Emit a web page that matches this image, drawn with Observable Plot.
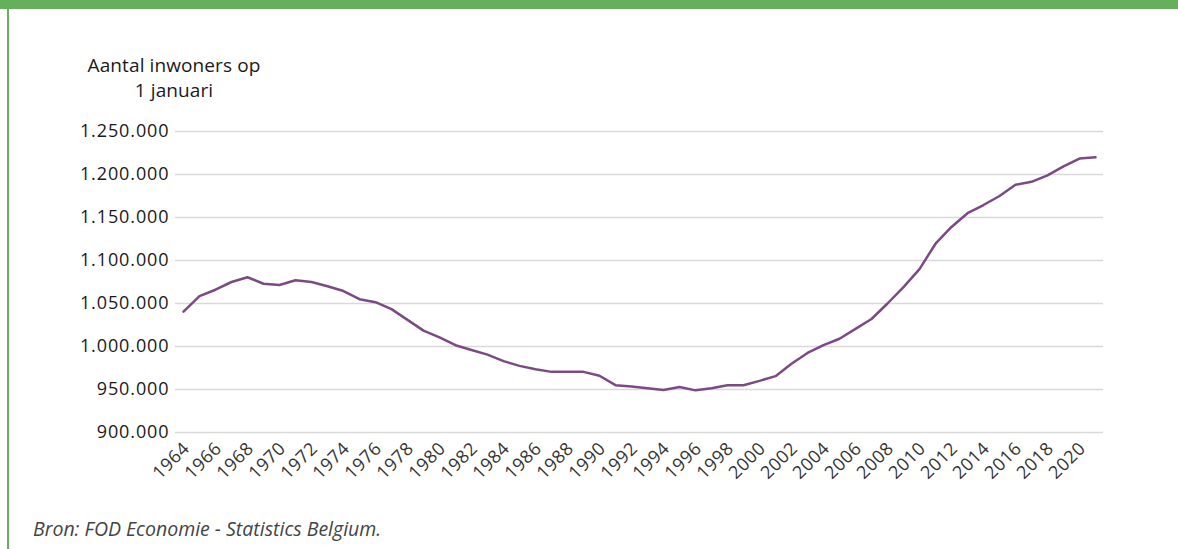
<!DOCTYPE html>
<html>
<head>
<meta charset="utf-8">
<script src="https://cdn.jsdelivr.net/npm/d3@7"></script>
<script src="https://cdn.jsdelivr.net/npm/@observablehq/plot@0.6"></script>
<style>
  html, body { margin: 0; padding: 0; background: #fff; }
  body { width: 1178px; height: 549px; position: relative; overflow: hidden; font-family: "Open Sans", sans-serif; }
  #topbar { position: absolute; left: 0; top: 0; width: 1178px; height: 9px; background: #66af5b; }
  #leftbar { position: absolute; left: 7px; top: 9px; width: 1.5px; height: 540px; background: #66af5b; }
  #title { position: absolute; left: 44px; width: 260px; top: 53px; text-align: center; font-size: 19px; line-height: 25px; color: #1a1a1a; letter-spacing: 0.1px; }
  #chart { position: absolute; left: 0; top: 110px; }
  #caption { position: absolute; left: 33px; top: 515px; font-size: 19.5px; font-style: italic; color: #444; }
  g[aria-label="y-axis tick label"] { letter-spacing: 0.9px; }
  g[aria-label="x-axis tick label"] { letter-spacing: 0.5px; }
</style>
</head>
<body>
<div id="topbar"></div>
<div id="leftbar"></div>
<div id="title">Aantal inwoners op<br>1 januari</div>
<div id="chart"></div>
<div id="caption">Bron: FOD Economie - Statistics Belgium.</div>
<script>
const years = [1964,1965,1966,1967,1968,1969,1970,1971,1972,1973,1974,1975,1976,1977,1978,1979,
  1980,1981,1982,1983,1984,1985,1986,1987,1988,1989,1990,1991,1992,1993,1994,1995,1996,1997,1998,1999,
  2000,2001,2002,2003,2004,2005,2006,2007,2008,2009,2010,2011,2012,2013,2014,2015,2016,2017,2018,2019,2020,2021];
const inwoners = [1040500,1058500,1066000,1075000,1080500,1073000,1071500,1077000,1075000,1070000,1064500,1055000,1051500,1043500,1031000,1018500,
  1010500,1001500,996000,990500,983000,977500,973500,970500,970500,970500,966000,955000,953500,951500,949500,953000,949000,951500,955000,955000,
  960000,965500,980000,992500,1001500,1009000,1020500,1032000,1050000,1069000,1090000,1119500,1139000,1155000,1164500,1175000,1188000,1191500,1199000,1209500,1218500,1220000];
const tickYears = [1964,1966,1968,1970,1972,1974,1976,1978,1980,1982,1984,1986,1988,1990,1992,1994,1996,1998,
  2000,2002,2004,2006,2008,2010,2012,2014,2016,2018,2020];
const yTicks = [900000,950000,1000000,1050000,1100000,1150000,1200000,1250000];

const data = years.map((y, i) => ({year: y, value: inwoners[i]}));
const fmt = d => d3.format(",")(d).replace(/,/g, ".");

const chart = Plot.plot({
  width: 1178,
  height: 392,
  marginLeft: 175,
  marginRight: 75,
  marginTop: 21,
  marginBottom: 70,
  style: { fontFamily: "'Open Sans', sans-serif", color: "#1a1a1a", background: "transparent" },
  x: { type: "point", domain: years, padding: 0.5 },
  y: { domain: [900000, 1250000] },
  marks: [
    Plot.gridY(yTicks, { stroke: "#d9d9d9", strokeOpacity: 1, strokeWidth: 1.5 }),
    Plot.axisY(yTicks, { tickSize: 0, tickPadding: 6, tickFormat: fmt, fontSize: 18, label: null, fill: "#1a1a1a" }),
    Plot.axisX(tickYears, { tickSize: 0, tickRotate: -45, tickPadding: 13, dx: 3, tickFormat: d => String(d), fontSize: 18, label: null, fill: "#333" }),
    Plot.line(data, { x: "year", y: "value", stroke: "#7b4a85", strokeWidth: 2.5 })
  ]
});
document.getElementById("chart").appendChild(chart);
</script>
</body>
</html>
